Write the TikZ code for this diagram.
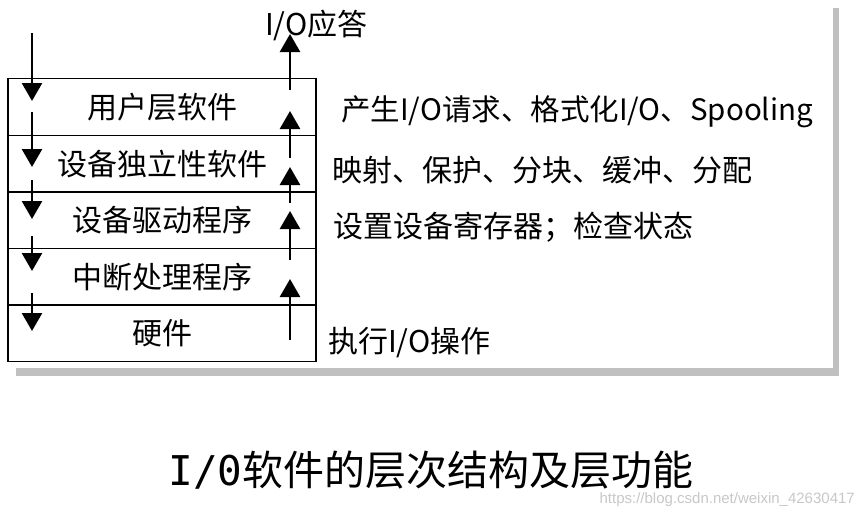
\documentclass[tikz,border=0pt]{standalone}
\usepackage{fontspec}
\setmainfont{Liberation Sans}
\newfontfamily\cjk{Noto Sans CJK SC}
\newfontfamily\monofnt{DejaVu Sans Mono}
\usetikzlibrary{arrows.meta}
\definecolor{shadowgray}{RGB}{192,192,192}
\definecolor{wmgray}{RGB}{200,200,200}
\tikzset{
  layerbox/.style={draw=black, line width=1.4pt, minimum width=308pt, minimum height=56.6pt, inner sep=0pt, anchor=north, font=\cjk\fontsize{30}{32}\selectfont},
  flowarr/.style={line width=2.6pt, -{Triangle[width=20pt,length=18pt]}},
  sidelabel/.style={anchor=west, inner sep=0pt, font=\cjk\fontsize{30}{32}\selectfont},
}
\begin{document}
\begin{tikzpicture}[x=1pt,y=-1pt]
\useasboundingbox (0,0) rectangle (862,520);
\fill[white] (0,0) rectangle (862,520);
% shadow
\fill[shadowgray] (16,368) rectangle (839,376);
\fill[shadowgray] (833,8) rectangle (839,376);
% layers
\node[layerbox] (l1) at (162,78) {用户层软件};
\node[layerbox] (l2) at (162,134.6) {设备独立性软件};
\node[layerbox] (l3) at (162,191.2) {设备驱动程序};
\node[layerbox] (l4) at (162,247.8) {中断处理程序};
\node[layerbox] (l5) at (162,304.4) {硬件};
% down arrows
\coordinate (d1s) at (32,33);  \coordinate (d1e) at (32,101);
\coordinate (d2s) at (32,112); \coordinate (d2e) at (32,167);
\coordinate (d3s) at (32,180); \coordinate (d3e) at (32,219);
\coordinate (d4s) at (32,236); \coordinate (d4e) at (32,271);
\coordinate (d5s) at (32,293); \coordinate (d5e) at (32,331);
\draw[flowarr] (d1s) -- (d1e);
\draw[flowarr] (d2s) -- (d2e);
\draw[flowarr] (d3s) -- (d3e);
\draw[flowarr] (d4s) -- (d4e);
\draw[flowarr] (d5s) -- (d5e);
% up arrows
\coordinate (u1s) at (290,90);  \coordinate (u1e) at (290,34);
\coordinate (u2s) at (290,158); \coordinate (u2e) at (290,111);
\coordinate (u3s) at (290,203); \coordinate (u3e) at (290,167);
\coordinate (u4s) at (290,260); \coordinate (u4e) at (290,211);
\coordinate (u5s) at (290,340); \coordinate (u5e) at (290,279);
\draw[flowarr] (u1s) -- (u1e);
\draw[flowarr] (u2s) -- (u2e);
\draw[flowarr] (u3s) -- (u3e);
\draw[flowarr] (u4s) -- (u4e);
\draw[flowarr] (u5s) -- (u5e);
% labels
\node[sidelabel] (ack) at (265,25) {I/O应答};
\node[sidelabel, font=\cjk\fontsize{29.5}{32}\selectfont] (f1) at (341,112) {产生I/O请求、格式化I/O、Spooling};
\node[sidelabel] (f2) at (332,170) {映射、保护、分块、缓冲、分配};
\node[sidelabel] (f3) at (333,227) {设置设备寄存器；检查状态};
\node[sidelabel] (f4) at (328,343) {执行I/O操作};
% caption
\node[inner sep=0pt, font=\cjk\fontsize{41}{45}\selectfont] (cap) at (431,470) {{\monofnt I/0}软件的层次结构及层功能};
\node[anchor=east, inner sep=0pt, text=wmgray, font=\fontsize{15}{17}\selectfont] (wm) at (855,500) {https://blog.csdn.net/weixin\_42630417};
\end{tikzpicture}
\end{document}
